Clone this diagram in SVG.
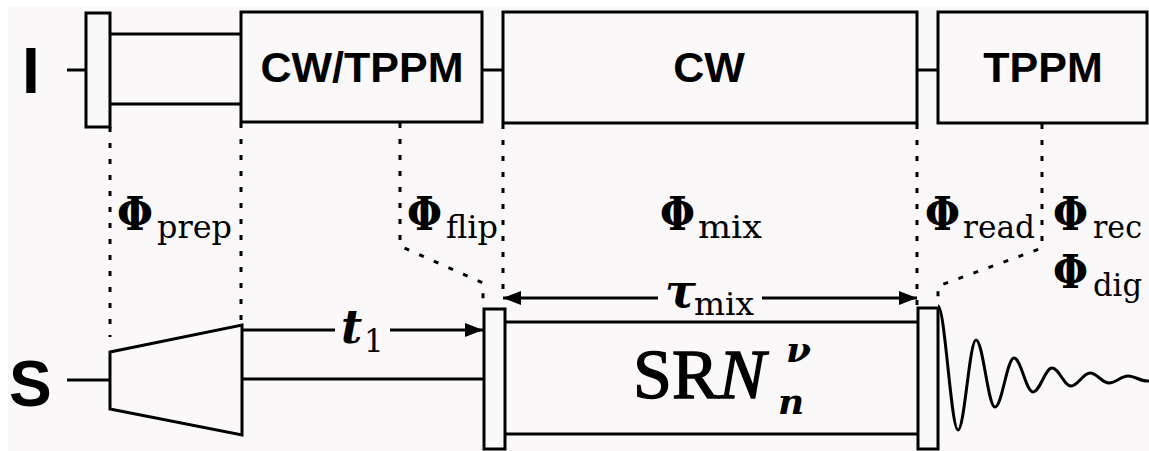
<svg xmlns="http://www.w3.org/2000/svg" width="1149" height="451" viewBox="0 0 1149 451">
  <defs>
    <style>
      .ln { stroke: #000; stroke-width: 3; fill: none; }
      .box { stroke: #000; stroke-width: 3; fill: #faf8f9; }
      .dot { stroke: #000; stroke-width: 3; fill: none; stroke-dasharray: 5 11; }
      .ch { font-family: "Liberation Sans", Arial, sans-serif; font-weight: bold; font-size: 64px; fill: #000; }
      .bl { font-family: "Liberation Sans", Arial, sans-serif; font-weight: bold; font-size: 43px; fill: #000; text-anchor: middle; }
      .phi { font-family: "DejaVu Serif", serif; font-weight: bold; font-size: 46px; fill: #000; }
      .sub { font-family: "DejaVu Serif", serif; font-size: 31px; fill: #000; }
      .mi { font-family: "DejaVu Serif", serif; font-weight: bold; font-style: italic; font-size: 46px; fill: #000; }
      .srn { font-family: "Liberation Serif", "Times New Roman", serif; font-size: 70px; fill: #000; stroke: #000; stroke-width: 1.4; }
      .scr { font-family: "DejaVu Serif", serif; font-weight: bold; font-style: italic; font-size: 36px; stroke: none; }
    </style>
    <marker id="ah" markerUnits="userSpaceOnUse" markerWidth="18" markerHeight="14" refX="18" refY="7" orient="auto-start-reverse">
      <path d="M0,0 L18,7 L0,14 z" fill="#000"/>
    </marker>
  </defs>

  <rect x="0" y="0" width="1149" height="451" fill="#ffffff"/>
  <rect x="8" y="7" width="1141" height="444" fill="#faf8f9"/>

  <g id="connectors">
    <path class="dot" d="M110,127 V337"/>
    <path class="dot" d="M241,123 V325"/>
    <path class="dot" d="M400,123 V246 L483,283 V309"/>
    <path class="dot" d="M503,124 V298"/>
    <path class="dot" d="M917,124 V309"/>
    <path class="dot" d="M1042,124 V248 L938,286 V308"/>
    <path class="ln" d="M67,70 H85"/>
    <path class="ln" d="M482,70 H502"/>
    <path class="ln" d="M917,70 H937"/>
    <path class="ln" d="M67,380 H110"/>
    <path class="ln" d="M242,379 H483"/>
    <path class="ln" d="M243,330 H335"/>
    <path class="ln" d="M390,330 H483" marker-end="url(#ah)"/>
    <path class="ln" d="M658,298 H503" marker-end="url(#ah)"/>
    <path class="ln" d="M762,298 H917" marker-end="url(#ah)"/>
  </g>

  <g id="label-I"><text class="ch" x="22" y="93">I</text></g>
  <g id="label-S"><text class="ch" x="9" y="406">S</text></g>

  <g id="pulse-I-prep">
    <rect class="box" x="86" y="13" width="24" height="114"/>
    <path class="ln" d="M110,34 H240 M110,104 H240"/>
  </g>
  <g id="box-cwtppm">
    <rect class="box" x="241" y="12" width="241" height="110"/>
    <text class="bl" x="362" y="82">CW/TPPM</text>
  </g>
  <g id="box-cw">
    <rect class="box" x="503" y="12" width="414" height="111"/>
    <text class="bl" x="709" y="82">CW</text>
  </g>
  <g id="box-tppm">
    <rect class="box" x="938" y="12" width="209" height="111"/>
    <text class="bl" x="1043" y="82">TPPM</text>
  </g>

  <g id="trapezoid">
    <polygon class="box" points="110,352 242,325 242,435 110,409"/>
  </g>
  <g id="pulse-S-flip">
    <rect class="box" x="484" y="309" width="21" height="140"/>
  </g>
  <g id="block-srn">
    <path class="ln" d="M505,322 H918 M505,434 H918"/>
    <text class="srn" x="633" y="398">SR<tspan font-style="italic">N</tspan><tspan class="scr" x="786" y="362">ν</tspan><tspan class="scr" x="778" y="414">n</tspan></text>
  </g>
  <g id="pulse-S-read">
    <rect class="box" x="918" y="308" width="20" height="141"/>
  </g>
  <g id="fid">
    <path class="ln" d="M938,306 C945,306 951,430 958,430 C964.5,430 969.5,340 976,340 C983,340 988,407 995,407 C1002,407 1007,358 1014,358 C1021,358 1026,392 1033,392 C1040,392 1045,368 1052,368 C1059,368 1064,386 1071,386 C1078,386 1083,373 1090,373 C1097,373 1102,383 1109,383 C1116,383 1121,376 1128,376 C1135,376 1140,381 1147,381 L1149,381"/>
  </g>

  <g id="label-phi-prep">
    <text class="phi" x="117" y="230" textLength="36" lengthAdjust="spacingAndGlyphs">Φ</text>
    <text class="sub" x="157" y="238" textLength="75" lengthAdjust="spacingAndGlyphs">prep</text>
  </g>
  <g id="label-phi-flip">
    <text class="phi" x="407" y="230" textLength="35" lengthAdjust="spacingAndGlyphs">Φ</text>
    <text class="sub" x="446" y="238" textLength="52" lengthAdjust="spacingAndGlyphs">flip</text>
  </g>
  <g id="label-phi-mix">
    <text class="phi" x="660" y="230" textLength="35" lengthAdjust="spacingAndGlyphs">Φ</text>
    <text class="sub" x="698" y="238" textLength="64" lengthAdjust="spacingAndGlyphs">mix</text>
  </g>
  <g id="label-phi-read">
    <text class="phi" x="925" y="230" textLength="35" lengthAdjust="spacingAndGlyphs">Φ</text>
    <text class="sub" x="963" y="238" textLength="72" lengthAdjust="spacingAndGlyphs">read</text>
  </g>
  <g id="label-phi-rec">
    <text class="phi" x="1053" y="230" textLength="35" lengthAdjust="spacingAndGlyphs">Φ</text>
    <text class="sub" x="1093" y="238" textLength="49" lengthAdjust="spacingAndGlyphs">rec</text>
  </g>
  <g id="label-phi-dig">
    <text class="phi" x="1053" y="288" textLength="35" lengthAdjust="spacingAndGlyphs">Φ</text>
    <text class="sub" x="1093" y="296" textLength="49" lengthAdjust="spacingAndGlyphs">dig</text>
  </g>
  <g id="label-tau-mix">
    <text class="mi" x="665" y="307">τ</text>
    <text class="sub" x="694" y="315" textLength="60" lengthAdjust="spacingAndGlyphs">mix</text>
  </g>
  <g id="label-t1">
    <text class="mi" x="341" y="343">t</text>
    <text class="sub" x="364" y="352">1</text>
  </g>
</svg>
